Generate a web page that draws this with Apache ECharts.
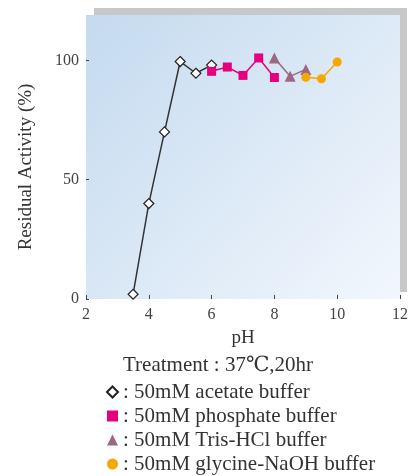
<!DOCTYPE html>
<html><head><meta charset="utf-8">
<script src="https://cdn.jsdelivr.net/npm/echarts@6/dist/echarts.min.js"></script>
<style>html,body{margin:0;padding:0;background:#fff}#c{width:412px;height:476px}</style>
</head><body><div id="c"></div>
<script>
const xTicks = [2, 4, 6, 8, 10, 12];
const yTicks = [0, 50, 100];
const acetatePH = [3.5, 4, 4.5, 5, 5.5, 6];
const acetateVal = [2, 40, 70, 99.5, 94.6, 98];
const phosphatePH = [6, 6.5, 7, 7.5, 8];
const phosphateVal = [95.4, 97.2, 93.7, 101, 92.8];
const trisPH = [8, 8.5, 9];
const trisVal = [101, 93.3, 96.2];
const glycinePH = [9, 9.5, 10];
const glycineVal = [92.9, 92.3, 99.3];
const names = [': 50mM acetate buffer', ': 50mM phosphate buffer', ': 50mM Tris-HCl buffer', ': 50mM glycine-NaOH buffer'];

const pairs = (xs, ys) => xs.map((x, i) => [x, ys[i]]);
const serif = '"Liberation Serif", "DejaVu Serif", serif';
const chart = echarts.init(document.getElementById('c'));
chart.setOption({
  animation: false,
  graphic: [{
    type: 'rect', z: -10, left: 94, top: 8,
    shape: { width: 313, height: 284 },
    style: { fill: '#c8c8c8' }
  }],
  title: {
    text: 'Treatment : 37℃,20hr', left: 123, top: 355, padding: 0,
    textStyle: { fontFamily: serif, fontSize: 21, fontWeight: 'normal', color: '#333' }
  },
  legend: {
    orient: 'vertical', left: 106, top: 381, itemGap: 2, padding: 0,
    itemWidth: 11, itemHeight: 11,
    textStyle: { fontFamily: serif, fontSize: 21, color: '#333', lineHeight: 22 },
    data: [
      { name: names[0], icon: 'diamond' },
      { name: names[1], icon: 'rect' },
      { name: names[2], icon: 'triangle' },
      { name: names[3], icon: 'circle' }
    ]
  },
  grid: {
    left: 86, right: 12, top: 15, bottom: 177, show: true, borderWidth: 0,
    backgroundColor: {
      type: 'linear', x: 0, y: 0, x2: 1, y2: 1,
      colorStops: [{ offset: 0, color: '#c4daef' }, { offset: 1, color: '#f2f7fd' }]
    }
  },
  xAxis: {
    type: 'value', min: 2, max: 12, interval: 2,
    name: 'pH', nameLocation: 'middle', nameGap: 30,
    nameTextStyle: { fontFamily: serif, fontSize: 19, color: '#333' },
    axisLine: { show: false },
    axisTick: { show: true, inside: true, length: 4, lineStyle: { color: '#444' } },
    axisLabel: { fontFamily: serif, fontSize: 16, color: '#444', margin: 8, customValues: xTicks },
    splitLine: { show: false }
  },
  yAxis: {
    type: 'value', min: 0, max: 119,
    name: 'Residual Activity (%)', nameLocation: 'middle', nameGap: 50,
    nameTextStyle: { fontFamily: serif, fontSize: 19, color: '#333', padding: [0, 20, 0, 0] },
    axisLine: { show: false },
    axisTick: { show: true, inside: true, length: 3, lineStyle: { color: '#444' }, customValues: yTicks },
    axisLabel: { fontFamily: serif, fontSize: 16, color: '#444', margin: 7, customValues: yTicks },
    splitLine: { show: false }
  },
  series: [
    {
      name: names[0], type: 'line', data: pairs(acetatePH, acetateVal),
      symbol: 'diamond', symbolSize: 10,
      lineStyle: { color: '#333', width: 1.5 },
      itemStyle: { color: '#fff', borderColor: '#222', borderWidth: 1.2 }
    },
    {
      name: names[1], type: 'line', data: pairs(phosphatePH, phosphateVal),
      symbol: 'rect', symbolSize: 9,
      lineStyle: { color: '#e4007f', width: 1.5 },
      itemStyle: { color: '#e4007f', borderWidth: 0 }
    },
    {
      name: names[2], type: 'line', data: pairs(trisPH, trisVal),
      symbol: 'triangle', symbolSize: 11,
      lineStyle: { color: '#9c6783', width: 1.5 },
      itemStyle: { color: '#9c6783', borderWidth: 0 }
    },
    {
      name: names[3], type: 'line', data: pairs(glycinePH, glycineVal),
      symbol: 'circle', symbolSize: 9,
      lineStyle: { color: '#f5a800', width: 1.5 },
      itemStyle: { color: '#f5a800', borderWidth: 0 }
    }
  ]
});
</script></body></html>
